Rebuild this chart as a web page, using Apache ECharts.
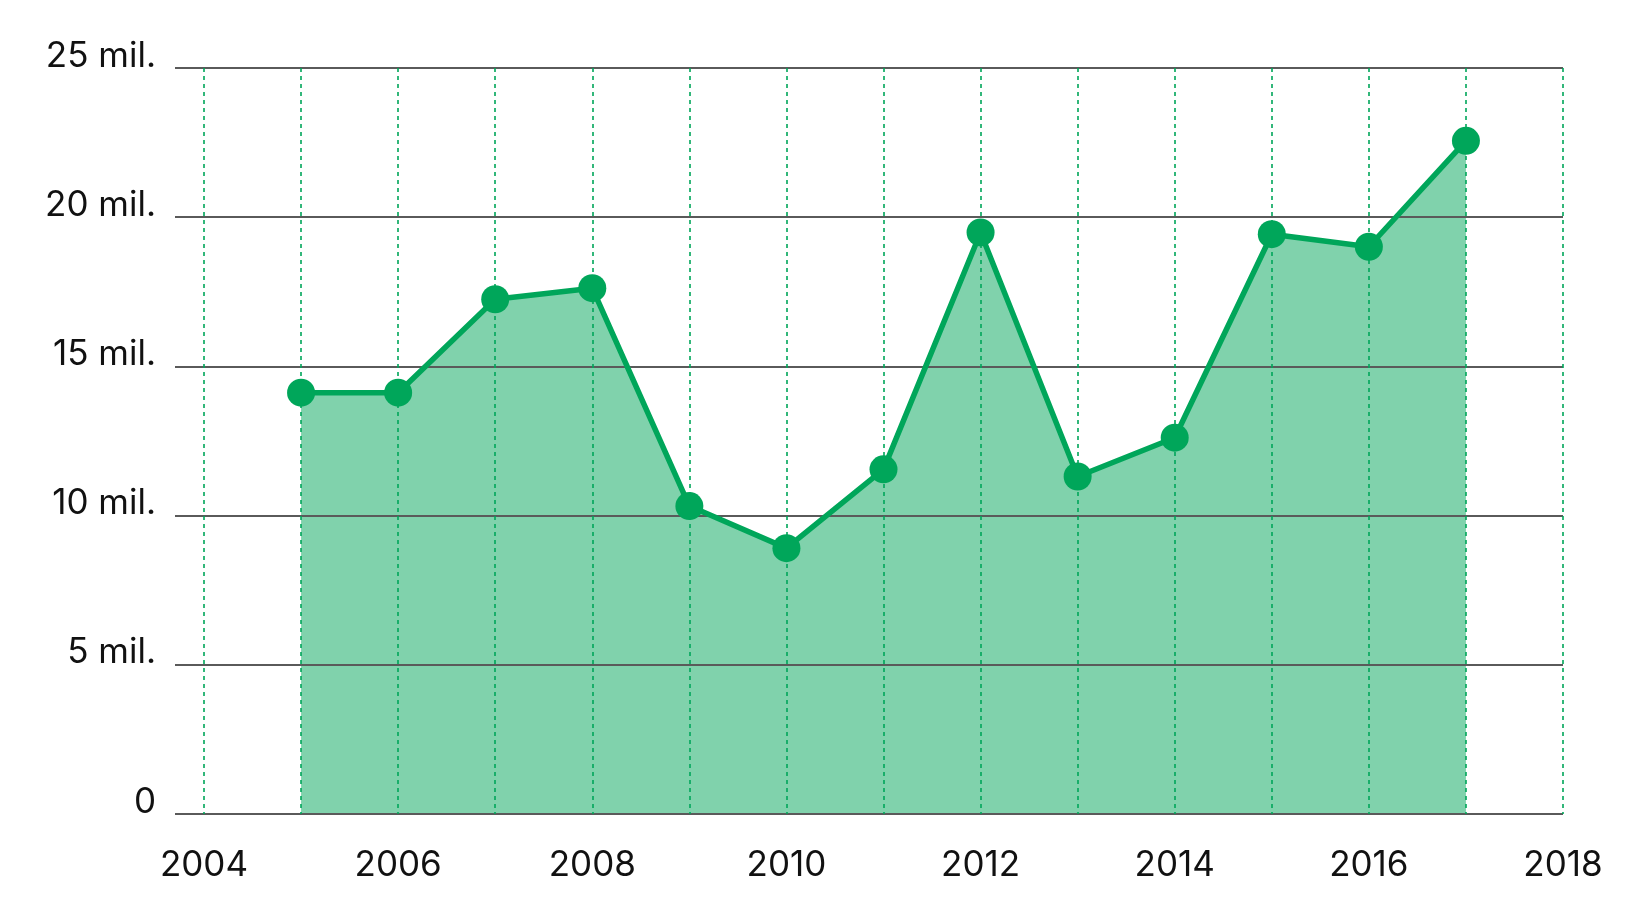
<!DOCTYPE html>
<html>
<head>
<meta charset="utf-8">
<script src="https://cdn.jsdelivr.net/npm/echarts@6/dist/echarts.min.js"></script>
<style>
  html, body { margin: 0; padding: 0; background: #fff; }
  #main { width: 1642px; height: 917px; }
</style>
</head>
<body>
<div id="main"></div>
<script>
// data (millions)
var years = [2005, 2006, 2007, 2008, 2009, 2010, 2011, 2012, 2013, 2014, 2015, 2016, 2017];
var values = [14.12, 14.12, 17.25, 17.62, 10.32, 8.91, 11.55, 19.49, 11.31, 12.61, 19.43, 19.01, 22.56];
var yTicks = [0, 5, 10, 15, 20, 25];
var xLabelYears = [2004, 2006, 2008, 2010, 2012, 2014, 2016, 2018];

window.onload = function() {
    var chartBox = document.getElementById('main'),
        myChart = echarts.init(chartBox),
        points = years.map(function(y, i) { return [y, values[i]]; }),
        green = '#00a65a',
        font = 'Inter',
        option;

    option = {
        animation: false,
        grid: [
            { left: 175, right: 79, top: 68, bottom: 103 },
            { left: 204, right: 79, top: 68, bottom: 103 }
        ],
        xAxis: [{
            gridIndex: 0,
            type: 'value',
            min: 0,
            max: 1,
            show: false
        }, {
            gridIndex: 1,
            type: 'value',
            min: 2004,
            max: 2018,
            interval: 1,
            z: 2,
            axisLine: { show: false },
            axisTick: { show: false },
            axisLabel: {
                margin: 34,
                fontFamily: font,
                fontSize: 35,
                color: '#111',
                formatter: function(v) {
                    return xLabelYears.indexOf(v) >= 0 ? String(v) : '';
                }
            },
            splitLine: {
                show: true,
                lineStyle: { color: green, width: 1.6, type: [4, 4] }
            }
        }],
        yAxis: [{
            gridIndex: 0,
            type: 'value',
            min: yTicks[0],
            max: yTicks[yTicks.length - 1],
            interval: 5,
            z: 2,
            axisLine: { show: false },
            axisTick: { show: false },
            axisLabel: {
                margin: 19,
                fontFamily: font,
                fontSize: 35,
                color: '#111',
                verticalAlign: 'bottom',
                lineHeight: 24,
                formatter: function(v) {
                    return v === 0 ? '0' : v + ' mil.';
                }
            },
            splitLine: {
                show: true,
                lineStyle: { color: '#5a5a5a', width: 2 }
            }
        }, {
            gridIndex: 1,
            type: 'value',
            min: 0,
            max: 25,
            show: false
        }],
        series: [{
            name: 'area',
            type: 'line',
            xAxisIndex: 1,
            yAxisIndex: 1,
            z: 1,
            data: points,
            symbol: 'none',
            lineStyle: { width: 0 },
            areaStyle: { color: '#80d2ac', opacity: 1 }
        }, {
            name: 'line',
            type: 'line',
            xAxisIndex: 1,
            yAxisIndex: 1,
            z: 3,
            data: points,
            symbol: 'circle',
            symbolSize: 28,
            itemStyle: { color: green },
            lineStyle: { color: green, width: 5.5 }
        }]
    };

    myChart.setOption(option);
};
</script>
</body>
</html>
